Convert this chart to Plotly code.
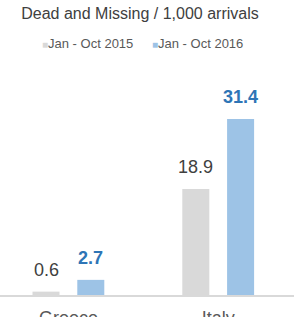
import plotly.graph_objects as go

categories = ["Greece", "Italy"]
series_names = ["Jan - Oct 2015", "Jan - Oct 2016"]
values_2015 = [0.6, 18.9]
values_2016 = [2.7, 31.4]
title_text = "Dead and Missing / 1,000 arrivals"

bar_colors = ["#D9D9D9", "#9DC3E6"]
label_colors = ["#404040", "#2E75B6"]
label_bold = [False, True]
FONT = "Liberation Sans, Arial, sans-serif"

fig = go.Figure()
for name, vals, col in zip(series_names, [values_2015, values_2016], bar_colors):
    fig.add_trace(go.Bar(x=categories, y=vals, name=name, marker_color=col,
                         marker_line_width=0, showlegend=False, hoverinfo="skip"))

# value labels
shifts = [-22.4, 22.4]
annotations = []
for i, vals in enumerate([values_2015, values_2016]):
    for c, v in zip(categories, vals):
        txt = f"{v:.1f}"
        if label_bold[i]:
            txt = f"<b>{txt}</b>"
        annotations.append(dict(x=c, y=v, xref="x", yref="y", text=txt, showarrow=False,
                                xshift=shifts[i], yshift=22, yanchor="middle",
                                font=dict(family=FONT, size=18, color=label_colors[i])))

# legend as text
legend_x = [39.5, 150]
for name, col, lx in zip(series_names, bar_colors, legend_x):
    annotations.append(dict(x=lx / 294, y=(295 - 44) / 235, xref="paper", yref="paper", text=
                            f"<span style='color:{col};font-size:10px'>■</span>{name}",
                            showarrow=False, xanchor="left", yanchor="middle",
                            font=dict(family=FONT, size=13, color="#595959")))

fig.update_layout(
    width=294, height=317,
    margin=dict(l=0, r=0, t=60, b=22, pad=0, autoexpand=False),
    paper_bgcolor="white", plot_bgcolor="white",
    barmode="group", bargap=0.402, bargroupgap=0.397,
    title=dict(text=title_text, x=140 / 294, xanchor="center", y=1 - 13 / 317, yanchor="middle",
               xref="paper", yref="container", automargin=False,
               font=dict(family=FONT, size=16, color="#404040")),
    annotations=annotations,
    xaxis=dict(range=[-0.4566, 1.506], showline=True, linecolor="#D9D9D9", linewidth=2,
               ticks="", ticklabelstandoff=5, automargin=False,
               tickfont=dict(family=FONT, size=18, color="#595959"),
               showgrid=False, zeroline=False, fixedrange=True),
    yaxis=dict(range=[0, 41.93], visible=False, showgrid=False, zeroline=False,
               fixedrange=True, automargin=False),
)
fig.write_html("out.html", config={"displayModeBar": False},
               post_script="document.body.style.margin='0';document.body.style.overflow='hidden';")
